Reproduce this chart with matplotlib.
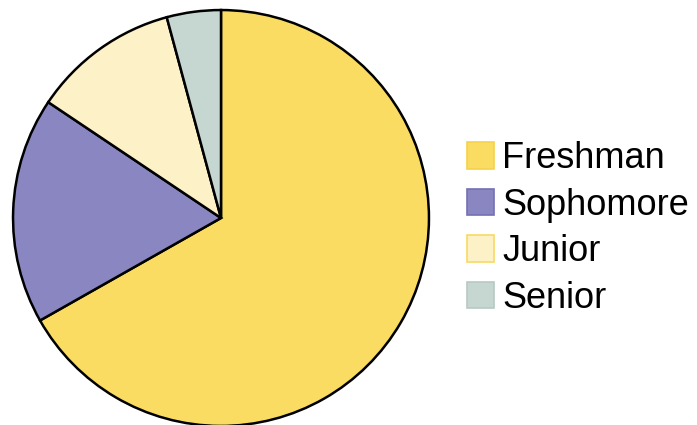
import matplotlib
matplotlib.use("Agg")
from matplotlib import pyplot as plt
from matplotlib.patches import Patch

# class standing shares (percent)
classes = ["Freshman", "Sophomore", "Junior", "Senior"]
shares = [66.8, 17.6, 11.4, 4.2]
colors = ["#F9DC61", "#8A86C1", "#FDF1C7", "#C6D6D0"]
legend_edges = ["#F6D24A", "#7470B4", "#F8DA63", "#B8C9C3"]

plt.rcParams['font.family'] = ['Liberation Sans', 'DejaVu Sans']

fig = plt.figure(figsize=(6.97, 4.25), dpi=100)
ax = fig.add_axes([12 / 697, -2 / 425, 418 / 697, 418 / 425])

ax.pie(shares, colors=colors, startangle=90, counterclock=False,
       wedgeprops=dict(edgecolor="black", linewidth=1.8))
ax.set_xlim(-1.005, 1.005)
ax.set_ylim(-1.005, 1.005)
ax.set_aspect("equal")

handles = [Patch(facecolor=c, edgecolor=e, linewidth=1.2)
           for c, e in zip(colors, legend_edges)]
fig.legend(handles, classes, loc="upper left",
           bbox_to_anchor=(467 / 697, 1 - 141 / 425),
           frameon=False, fontsize=26, handlelength=0.75, handleheight=0.75,
           handletextpad=0.22, labelspacing=0.32, borderpad=0, borderaxespad=0)

fig.savefig("out.png", dpi=100)
